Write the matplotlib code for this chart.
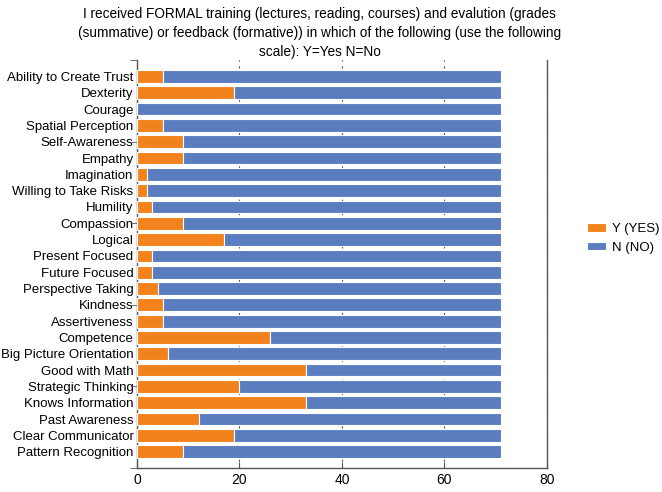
import matplotlib
matplotlib.use("Agg")
import matplotlib.pyplot as plt
import numpy as np

plt.rcParams['font.family'] = ['Liberation Sans', 'DejaVu Sans']

categories = ["Ability to Create Trust", "Dexterity", "Courage", "Spatial Perception",
              "Self-Awareness", "Empathy", "Imagination", "Willing to Take Risks",
              "Humility", "Compassion", "Logical", "Present Focused", "Future Focused",
              "Perspective Taking", "Kindness", "Assertiveness", "Competence",
              "Big Picture Orientation", "Good with Math", "Strategic Thinking",
              "Knows Information", "Past Awareness", "Clear Communicator",
              "Pattern Recognition"]
yes_vals = [5, 19, 0, 5, 9, 9, 2, 2, 3, 9, 17, 3, 3, 4, 5, 5, 26, 6, 33, 20, 33, 12, 19, 9]
no_vals = [66, 52, 71, 66, 62, 62, 69, 69, 68, 62, 54, 68, 68, 67, 66, 66, 45, 65, 38, 51, 38, 59, 52, 62]
x_ticks = [0, 20, 40, 60, 80]

title = ("I received FORMAL training (lectures, reading, courses) and evalution (grades\n"
         "(summative) or feedback (formative)) in which of the following (use the following\n"
         "scale): Y=Yes N=No")

orange = '#F2821C'
blue = '#5A7DC0'

fig = plt.figure(figsize=(6.62, 4.92), dpi=100)
ax = fig.add_axes([0.207, 0.0488, 0.619, 0.829])

n = len(categories)
ypos = np.arange(n, 0, -1)  # top category at n
yes = np.array(yes_vals)
no = np.array(no_vals)

ax.barh(ypos, yes, height=0.78, color=orange, edgecolor='white', linewidth=0.8,
        label='Y (YES)', zorder=3)
ax.barh(ypos, no, left=yes, height=0.78, color=blue, edgecolor='white', linewidth=0.8,
        label='N (NO)', zorder=3)

ax.set_xlim(0, 80)
ax.set_ylim(0, 25)
ax.set_xticks(x_ticks)
ax.tick_params(axis='x', direction='in', length=4, labelsize=10, color='#555555')

ax.yaxis.remove_overlapping_locs = False
ax.set_yticks(ypos)
ax.set_yticklabels(categories)
ax.tick_params(axis='y', which='major', length=0, labelsize=9.5, pad=2.5)
ax.set_yticks([0, 5, 10, 15, 20, 25], minor=True)
ax.tick_params(axis='y', which='minor', direction='out', length=5, color='#555555')

ax.grid(axis='x', linestyle=(0, (2, 4)), color='#555555', linewidth=0.8, zorder=0)
ax.set_axisbelow(True)

ax.spines['top'].set_visible(False)
for s in ['left', 'bottom', 'right']:
    ax.spines[s].set_color('#555555')
    ax.spines[s].set_linewidth(1.0)

fig.text(0.483, 0.985, title, ha='center', va='top', fontsize=9.8, linespacing=1.45)

handles, labels = ax.get_legend_handles_labels()
fig.legend(handles, labels, loc='center left', bbox_to_anchor=(0.875, 0.515),
           frameon=False, fontsize=9.5, handlelength=1.4, handleheight=0.6,
           labelspacing=0.5, handletextpad=0.5, borderaxespad=0.2)

fig.savefig('out.png', dpi=100)
